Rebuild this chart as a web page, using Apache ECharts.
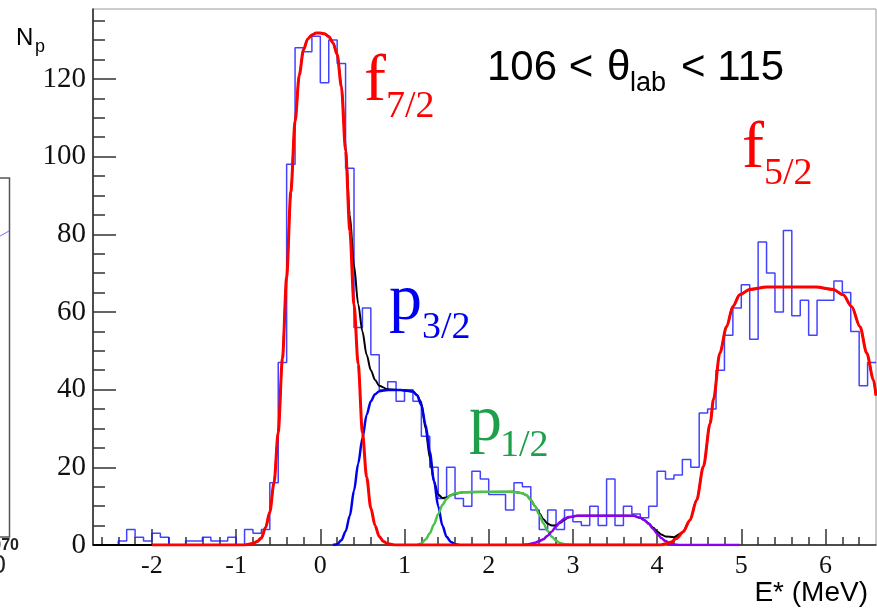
<!DOCTYPE html>
<html>
<head>
<meta charset="utf-8">
<script src="https://cdn.jsdelivr.net/npm/echarts@6/dist/echarts.min.js"></script>
<style>
html,body{margin:0;padding:0;background:#fff;}
#chart{width:877px;height:610px;}
</style>
</head>
<body>
<div id="chart"></div>
<script>
// ---- data ----
const binLowEdges = [
  -2.7,-2.6,-2.5,-2.4,-2.3,-2.2,-2.1,-2.0,-1.9,-1.8,
  -1.7,-1.6,-1.5,-1.4,-1.3,-1.2,-1.1,-1.0,-0.9,-0.8,
  -0.7,-0.6,-0.5,-0.4,-0.3,-0.2,-0.1,0.0,0.1,0.2,
  0.3,0.4,0.5,0.6,0.7,0.8,0.9,1.0,1.1,1.2,
  1.3,1.4,1.5,1.6,1.7,1.8,1.9,2.0,2.1,2.2,
  2.3,2.4,2.5,2.6,2.7,2.8,2.9,3.0,3.1,3.2,
  3.3,3.4,3.5,3.6,3.7,3.8,3.9,4.0,4.1,4.2,
  4.3,4.4,4.5,4.6,4.7,4.8,4.9,5.0,5.1,5.2,
  5.3,5.4,5.5,5.6,5.7,5.8,5.9,6.0,6.1,6.2,
  6.3,6.4,6.5
];
const histUpperEdge = 6.6;
const counts = [
  0,0,0,1,4,2,1,3,2,0,
  0,1,1,2,1,1,2,0,4,3,
  4,16,47,98,128,127,131,119,130,124,
  97,56,61,49,40,42,37,40,37,28,
  20,12,20,12,10,19,17,13,13,9,
  16,15,9,4,9,4,9,6,5,10,
  5,17,5,10,8,7,10,19,17,18,
  22,20,34,35,45,54,61,67,53,78,
  70,60,81,59,63,54,63,63,68,65,
  55,41,47
];
// fit curves, points [E, Np]
const fitTotal = [
  [-2.7,0],[-0.9,0],[-0.8,0.4],[-0.75,0.9],[-0.7,1.8],[-0.65,4.5],[-0.6,8.5],[-0.55,16],[-0.5,29],
  [-0.45,48],[-0.4,69],[-0.35,91],[-0.3,109],[-0.25,121],[-0.2,127.5],[-0.15,130.3],[-0.1,131.3],
  [-0.05,131.8],[0,131.8],[0.05,131.6],[0.1,130.9],[0.15,129.3],[0.2,126.3],[0.25,118.5],[0.3,102.5],
  [0.35,85],[0.4,72],[0.45,62],[0.5,55],[0.55,49],[0.6,45],[0.65,42.5],[0.7,41],[0.8,40.1],
  [0.95,39.9],[1.1,39.5],[1.15,38.6],[1.2,36.5],[1.25,30],[1.3,22.5],[1.35,16.5],[1.4,13],
  [1.45,12.1],[1.5,12.2],[1.55,12.8],[1.6,13.2],[1.7,13.6],[2.29,13.7],[2.4,13.3],[2.45,12.8],
  [2.5,11.6],[2.55,10],[2.6,8.2],[2.65,6.6],[2.7,5.5],[2.75,5],[2.8,5.1],[2.85,5.7],[2.9,6.5],
  [2.95,7.1],[3.05,7.5],[3.72,7.5],[3.8,7.0],[3.85,6.4],[3.9,5.6],[3.95,4.5],[4.0,3.5],[4.05,2.7],
  [4.1,2.2],[4.2,2.0],[4.3,3.2],[4.39,6.4],[4.47,11.6],[4.55,20.2],[4.63,31.3],[4.67,37.5],
  [4.745,49.4],[4.825,56.2],[4.90,61.4],[4.98,64.4],[5.10,65.8],[5.30,66.4],[5.89,66.4],[6.09,65.8],
  [6.21,64.4],[6.31,61.4],[6.41,56.2],[6.49,49.4],[6.57,42.5],[6.6,38.5]
];
const fitF72 = [
  [-2.0,0],[-0.9,0],[-0.8,0.4],[-0.75,0.9],[-0.7,1.8],[-0.65,4.5],[-0.6,8.5],[-0.55,16],[-0.5,29],
  [-0.45,48],[-0.4,69],[-0.35,91],[-0.3,109],[-0.25,121],[-0.2,127.5],[-0.15,130.3],[-0.1,131.3],
  [-0.05,131.8],[0,131.8],[0.05,131.6],[0.1,130.9],[0.15,129.3],[0.2,126.3],[0.25,118],[0.3,101.5],
  [0.35,81],[0.4,62],[0.45,46.5],[0.5,29],[0.55,17.5],[0.6,9.5],[0.65,5],[0.7,2.2],[0.75,0.9],
  [0.8,0.3],[0.9,0],[4.05,0]
];
const fitP32 = [
  [0.15,0],[0.2,0.2],[0.25,1.2],[0.3,3.5],[0.35,7.5],[0.4,14],[0.45,21],[0.5,27.5],[0.55,33.5],
  [0.6,37],[0.65,38.8],[0.7,39.6],[0.8,39.9],[0.95,39.9],[1.1,39.5],[1.15,38.5],[1.2,36],[1.25,31],
  [1.3,24],[1.35,16.5],[1.4,10],[1.45,5],[1.5,2.1],[1.55,0.8],[1.6,0.2],[1.65,0]
];
const fitP12 = [
  [1.15,0],[1.2,0.4],[1.25,1.4],[1.3,3],[1.35,5.3],[1.4,8],[1.45,10.3],[1.5,11.9],[1.55,12.8],
  [1.6,13.3],[1.7,13.6],[1.9,13.7],[2.29,13.7],[2.4,13.3],[2.45,12.8],[2.5,11.6],[2.55,10],
  [2.6,7.8],[2.65,5.6],[2.7,3.6],[2.75,2.1],[2.8,1.1],[2.85,0.5],[2.9,0.2],[3.0,0],[4.12,0]
];
const fitPurple = [
  [2.4,0],[2.45,0.1],[2.5,0.3],[2.55,0.6],[2.6,1],[2.65,1.5],[2.7,2.4],[2.75,3.5],[2.8,4.8],
  [2.85,6],[2.9,6.8],[2.95,7.2],[3.05,7.5],[3.72,7.5],[3.8,7.0],[3.85,6.4],[3.9,5.5],[3.95,4.2],
  [4.0,2.9],[4.05,1.8],[4.1,1.0],[4.15,0.4],[4.2,0.1],[4.27,0],[4.98,0]
];
const fitF52 = [
  [4.05,0],[4.11,0.3],[4.17,0.8],[4.23,1.7],[4.31,3.4],[4.39,6.4],[4.47,11.6],[4.55,20.2],[4.63,31.3],
  [4.67,37.5],[4.745,49.4],[4.825,56.2],[4.90,61.4],[4.98,64.4],[5.10,65.8],[5.30,66.4],[5.89,66.4],
  [6.09,65.8],[6.21,64.4],[6.31,61.4],[6.41,56.2],[6.49,49.4],[6.57,42.5],[6.6,38.5]
];
// axis ticks
const xMajorTicks = [-2,-1,0,1,2,3,4,5,6];
const xMinorTicks = [-2.6,-2.4,-2.2,-1.8,-1.6,-1.4,-1.2,-0.8,-0.6,-0.4,-0.2,0.2,0.4,0.6,0.8,
  1.2,1.4,1.6,1.8,2.2,2.4,2.6,2.8,3.2,3.4,3.6,3.8,4.2,4.4,4.6,4.8,5.2,5.4,5.6,5.8,6.2,6.4];
const yMajorTicks = [0,20,40,60,80,100,120];
const yMinorTicks = [5,10,15,25,30,35,45,50,55,65,70,75,85,90,95,105,110,115,125,130,135];
const xRange = [-2.7, 6.6];
const yRange = [0, 138];

// ---- chart ----
const chart = echarts.init(document.getElementById('chart'), null, {renderer: 'canvas'});
const histData = binLowEdges.map((e, i) => [e, counts[i]]).concat([[histUpperEdge, counts[counts.length - 1]]]);
const serif = '"Liberation Serif", "DejaVu Serif", serif';
const sans = '"Liberation Sans", Arial, sans-serif';

function curve(name, data, color, width, z) {
  return {
    name, type: 'line', data, smooth: 0.3, smoothMonotone: 'x', symbol: 'none', z,
    lineStyle: {color, width}, xAxisIndex: 0, yAxisIndex: 0, silent: true
  };
}
function txt(text, x, y, size, family, color, align, weight) {
  return {
    type: 'text', x, y, silent: true, z: 100,
    style: {
      text, fill: color, fontSize: size, fontFamily: family, fontWeight: weight || 'normal',
      align: align || 'left', textAlign: align || 'left', verticalAlign: 'middle', textVerticalAlign: 'middle'
    }
  };
}

const option = {
  animation: false,
  backgroundColor: '#fff',
  grid: {left: 93, right: 1, top: 9, bottom: 65, show: true, borderColor: '#9a9a9a', borderWidth: 1, backgroundColor: 'transparent'},
  xAxis: [
    {
      type: 'value', min: xRange[0], max: xRange[1], position: 'bottom',
      axisLine: {show: true, onZero: false, lineStyle: {color: '#222', width: 1.5}},
      axisTick: {show: true, inside: true, length: 16, customValues: xMajorTicks, lineStyle: {color: '#333', width: 1.5}},
      axisLabel: {show: true, customValues: xMajorTicks, margin: 8, fontFamily: serif, fontSize: 26, color: '#111'},
      splitLine: {show: false}
    },
    {
      type: 'value', min: xRange[0], max: xRange[1], position: 'bottom',
      axisLine: {show: false, onZero: false},
      axisTick: {show: true, inside: true, length: 8, customValues: xMinorTicks, lineStyle: {color: '#333', width: 1.5}},
      axisLabel: {show: false},
      splitLine: {show: false}
    }
  ],
  yAxis: [
    {
      type: 'value', min: yRange[0], max: yRange[1], position: 'left',
      axisLine: {show: true, onZero: false, lineStyle: {color: '#222', width: 1.5}},
      axisTick: {show: true, inside: true, length: 23, customValues: yMajorTicks, lineStyle: {color: '#333', width: 1.5}},
      axisLabel: {show: true, customValues: yMajorTicks, margin: 7, fontFamily: serif, fontSize: 29, color: '#111'},
      splitLine: {show: false}
    },
    {
      type: 'value', min: yRange[0], max: yRange[1], position: 'left',
      axisLine: {show: false, onZero: false},
      axisTick: {show: true, inside: true, length: 12, customValues: yMinorTicks, lineStyle: {color: '#333', width: 1.5}},
      axisLabel: {show: false},
      splitLine: {show: false}
    }
  ],
  series: [
    {
      name: 'data', type: 'line', step: 'end', data: histData, symbol: 'none', z: 2,
      lineStyle: {color: 'rgba(20,20,255,0.8)', width: 1.5}, silent: true
    },
    curve('total', fitTotal, '#000000', 2, 3),
    curve('p3/2', fitP32, '#0000f0', 2.5, 4),
    curve('p1/2', fitP12, '#4cc24c', 2.5, 5),
    curve('other', fitPurple, '#8a00f0', 2.5, 6),
    curve('f7/2', fitF72, '#ff0000', 3, 7),
    curve('f5/2', fitF52, '#ff0000', 3, 8)
  ],
  graphic: [
    // cropped neighbouring panel fragment at far left
    {type: 'rect', shape: {x: -10, y: 178, width: 19.5, height: 359}, silent: true,
     style: {fill: 'none', stroke: '#555', lineWidth: 1.5}},
    {type: 'line', shape: {x1: 0, y1: 236, x2: 9, y2: 231}, silent: true,
     style: {stroke: '#7070ff', lineWidth: 1}},
    txt('1070', 19, 546, 16, sans, '#222', 'right', 'bold'),
    txt('0', 6, 566, 26, sans, '#222', 'right'),
    // axis titles
    txt('N', 16, 38.7, 24, sans, '#000'),
    txt('p', 35, 47, 18, sans, '#000'),
    txt('E* (MeV)', 868, 593, 28, sans, '#000', 'right'),
    // angle range
    txt('106 < ', 487, 68.7, 42, sans, '#000'),
    txt('θ', 607, 68.7, 42, sans, '#000'),
    txt('lab', 630, 83.9, 27, sans, '#000'),
    txt('< 115', 681, 68.7, 42, sans, '#000'),
    // state labels
    txt('f', 364, 82.7, 66, serif, '#ff0000'),
    txt('7/2', 386, 107.2, 38, serif, '#ff0000'),
    txt('f', 742, 149.4, 66, serif, '#ff0000'),
    txt('5/2', 764, 173.9, 38, serif, '#ff0000'),
    txt('p', 389, 301.4, 66, serif, '#0000f0'),
    txt('3/2', 422, 327.9, 38, serif, '#0000f0'),
    txt('p', 469, 423.1, 66, serif, '#1ea04a'),
    txt('1/2', 500, 446.5, 38, serif, '#1ea04a')
  ]
};
chart.setOption(option);
</script>
</body>
</html>
